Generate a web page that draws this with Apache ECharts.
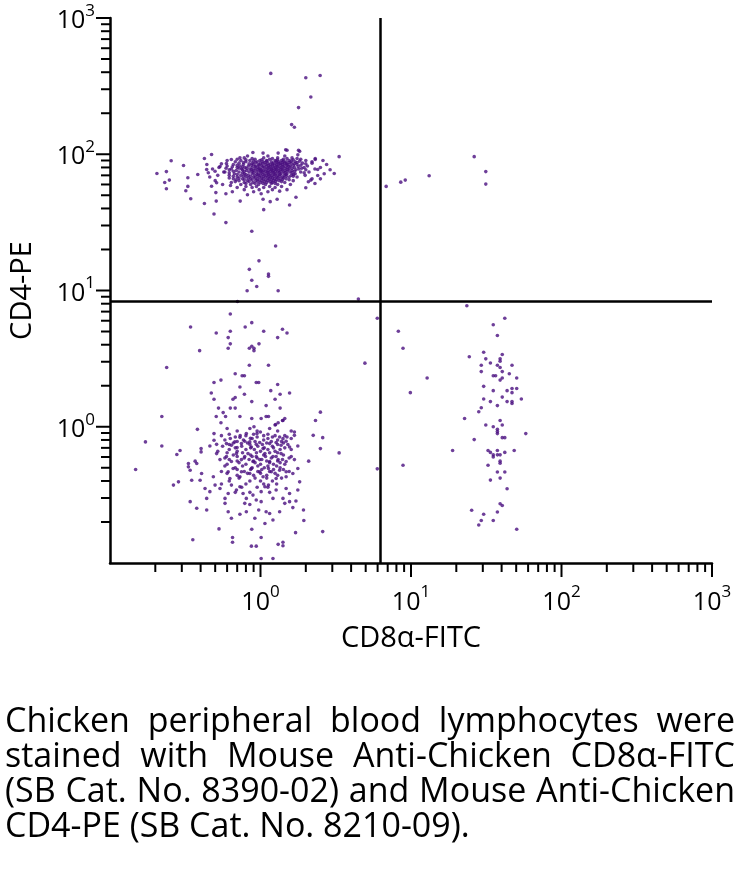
<!DOCTYPE html>
<html><head><meta charset="utf-8">
<script src="https://cdn.jsdelivr.net/npm/echarts@6/dist/echarts.min.js"></script>
<style>html,body{margin:0;padding:0;background:#fff}#c{width:740px;height:881px}</style>
</head><body><div id="c"></div><script>
// ---- data (CD8a-FITC, CD4-PE) ----
const upperLeftSpray = [[1.17,392],[2.0,364],[2.49,378],[2.16,263],[1.79,220],[1.61,165],[1.68,158],[3.33,96],[3.09,72.3],
 [0.205,72.3],[0.255,89.5],[0.237,74.6],[0.248,64.6],[0.231,62.1],[0.237,55.8],[0.308,82.6],[0.329,67.2],[0.329,58.1],[0.319,54.0],
 [0.344,47.2],[0.424,43.5],[0.424,93],[0.473,99.5],[0.508,45.3],[0.733,45.3],[0.819,50.5],[1.04,46.7],[1.16,44.9],[1.29,46.7],
 [1.56,42.4],[1.72,48.4],[2.0,56.7],[2.08,62.8],[2.40,69.8],[2.31,93],[1.79,107],[1.50,107],
 [0.491,36.4],[0.589,31.5],[1.05,39.2],[0.875,27.2],[1.26,21.2],[0.977,16.5],[0.843,14.3],[1.13,13.2],[1.13,12.7],[0.875,11.9],
 [0.944,10.7],[0.815,9.96],[1.31,9.96],[4.47,8.65],
 [0.383,71.1],[0.45,73.1],[0.511,61.8],[0.473,58.3],[0.505,52.3],[0.589,51.3],[0.632,59.0],[1.01,51.3],[1.34,53.6],[2.16,64.6],
 [2.4,77.3],[2.31,91.4],[1.82,105],[1.47,108],[1.77,99],[1.31,102],[1.04,102],[0.89,103],[0.73,94.2],[0.64,91.4],[0.594,85.5],
 [0.538,81.2],[0.499,75.0],[0.439,77.3],
 [0.48,78],[0.52,70],[0.55,85],[0.5,64],[0.57,74],[0.6,90],[0.46,68],[0.53,80],[0.62,67],[0.56,60],[0.44,84],[0.59,79],
 [2.5,80],[2.65,72],[2.2,88],[2.5,66],[2.75,84],[2.3,61],[2.9,77],[2.6,90]];
const upperLeftCore = [
 [0.78,94],[1.05,94],[1.3,94],[1.62,94],
 [0.7,92],[0.92,92],[1.15,92],[1.42,92],[1.85,92],
 [0.74,90],[0.85,90],[0.99,90],[1.1,90],[1.25,90],[1.38,90],[1.55,90],[2.0,90],
 [0.68,88],[0.8,88],[0.95,88],[1.04,88],[1.18,88],[1.32,88],[1.48,88],[1.7,88],
 [0.72,86],[0.88,86],[1.0,86],[1.12,86],[1.22,86],[1.35,86],[1.45,86],[1.6,86],[1.9,86],[2.2,86],
 [0.66,84],[0.77,84],[0.9,84],[0.97,84],[1.08,84],[1.16,84],[1.28,84],[1.4,84],[1.52,84],[1.75,84],
 [0.6,82],[0.73,82],[0.83,82],[0.93,82],[1.02,82],[1.1,82],[1.2,82],[1.3,82],[1.43,82],[1.58,82],[2.05,82],
 [0.7,80],[0.79,80],[0.88,80],[0.96,80],[1.06,80],[1.14,80],[1.25,80],[1.36,80],[1.5,80],[1.68,80],[1.95,80],
 [0.64,78],[0.75,78],[0.85,78],[0.92,78],[1.0,78],[1.09,78],[1.18,78],[1.27,78],[1.39,78],[1.55,78],[1.8,78],[2.3,78],
 [0.69,76],[0.81,76],[0.9,76],[0.98,76],[1.05,76],[1.13,76],[1.22,76],[1.33,76],[1.46,76],[1.62,76],
 [0.58,74],[0.72,74],[0.84,74],[0.94,74],[1.03,74],[1.11,74],[1.2,74],[1.3,74],[1.42,74],[1.57,74],[1.85,74],[2.1,74],
 [0.67,72],[0.78,72],[0.88,72],[0.97,72],[1.07,72],[1.16,72],[1.26,72],[1.37,72],[1.5,72],[1.7,72],
 [0.62,70],[0.74,70],[0.83,70],[0.92,70],[1.0,70],[1.1,70],[1.19,70],[1.3,70],[1.44,70],[1.6,70],[1.98,70],
 [0.7,68],[0.8,68],[0.9,68],[0.99,68],[1.08,68],[1.17,68],[1.28,68],[1.4,68],[1.55,68],[1.75,68],
 [0.66,66],[0.76,66],[0.86,66],[0.95,66],[1.04,66],[1.14,66],[1.24,66],[1.35,66],[1.48,66],[2.2,66],
 [0.72,64],[0.82,64],[0.93,64],[1.02,64],[1.12,64],[1.22,64],[1.33,64],[1.65,64],
 [0.64,62],[0.78,62],[0.89,62],[1.0,62],[1.1,62],[1.2,62],[1.45,62],
 [0.74,60],[0.86,60],[0.97,60],[1.08,60],[1.3,60],[1.58,60],
 [0.8,58],[0.94,58],[1.15,58],[1.38,58]];
const upperLeftCore2 = [
 [0.82,97],[1.12,97],[1.45,97],
 [0.88,93],[1.2,93],[1.5,93],[1.75,93],
 [0.8,91],[1.02,91],[1.3,91],[1.65,91],
 [0.9,89],[1.1,89],[1.27,89],[1.42,89],[1.6,89],[1.82,89],
 [0.77,87],[0.93,87],[1.07,87],[1.28,87],[1.4,87],[1.55,87],[1.75,87],
 [0.84,85],[1.03,85],[1.2,85],[1.33,85],[1.48,85],[1.68,85],[2.0,85],
 [0.7,83],[0.87,83],[0.98,83],[1.13,83],[1.24,83],[1.36,83],[1.5,83],[1.65,83],[1.85,83],
 [0.65,81],[0.76,81],[0.92,81],[1.04,81],[1.17,81],[1.29,81],[1.41,81],[1.55,81],[1.78,81],
 [0.72,79],[0.81,79],[0.98,79],[1.12,79],[1.22,79],[1.33,79],[1.46,79],[1.62,79],[1.88,79],
 [0.62,77],[0.76,77],[0.87,77],[0.95,77],[1.02,77],[1.18,77],[1.28,77],[1.4,77],[1.52,77],[1.72,77],[2.0,77],
 [0.66,75],[0.78,75],[0.88,75],[1.0,75],[1.08,75],[1.16,75],[1.25,75],[1.36,75],[1.5,75],[1.68,75],
 [0.62,73],[0.76,73],[0.9,73],[1.01,73],[1.12,73],[1.22,73],[1.33,73],[1.45,73],[1.62,73],[1.95,73],
 [0.7,71],[0.8,71],[0.95,71],[1.04,71],[1.13,71],[1.24,71],[1.35,71],[1.48,71],[1.66,71],
 [0.66,69],[0.77,69],[0.86,69],[0.96,69],[1.05,69],[1.14,69],[1.23,69],[1.34,69],[1.48,69],[1.65,69],
 [0.72,67],[0.83,67],[0.92,67],[1.02,67],[1.12,67],[1.2,67],[1.3,67],[1.42,67],
 [0.69,65],[0.78,65],[0.88,65],[0.98,65],[1.08,65],[1.18,65],[1.28,65],[1.4,65],[1.55,65],
 [0.68,63],[0.84,63],[0.96,63],[1.06,63],[1.16,63],[1.26,63],[1.38,63],
 [0.8,61],[0.92,61],[1.04,61],[1.18,61],[1.25,61],
 [0.7,57],[0.88,57],[1.05,57],[1.25,57],
 [0.78,55],[0.98,55],[1.2,55],[1.5,55],
 [0.65,53],[0.9,53],[1.12,53]];
const upperRight = [[6.84,58.1],[8.55,62.4],[9.16,64.6],[13.2,69.5],[26.3,96],[31.4,74.6],[31.4,60.4]];
const lowerLeftSpread = [[0.703,8.3],[0.63,6.72],[0.343,5.40],[0.508,4.87],[0.63,5.02],[0.791,5.40],[0.875,5.81],[1.05,5.02],
 [1.40,5.19],[1.50,4.87],[1.30,4.51],[0.61,4.51],[0.63,4.06],[0.61,3.77],[0.394,3.62],[0.843,3.77],[0.875,3.90],[0.905,3.77],
 [0.905,3.62],[0.977,4.06],[0.238,2.72],[0.843,2.83],[1.13,2.83],[0.679,2.45],[0.755,2.37],[0.782,2.37],[0.491,2.11],[0.546,2.20],
 [0.937,2.11],[0.973,2.11],[1.30,2.04],[0.73,1.96],[1.17,1.84],[0.471,1.77],[1.56,1.77],[1.35,1.73],[0.679,1.64],[0.656,1.59],
 [0.782,1.73],[0.491,1.59],[0.875,1.53],[1.25,1.59],[1.09,1.43],[0.526,1.37],[0.63,1.37],[0.679,1.37],[1.35,1.37],[0.565,1.27],
 [0.221,1.19],[0.508,1.19],[0.586,1.19],[0.73,1.19],[0.875,1.15],[1.01,1.15],[1.09,1.19],[1.13,1.19],[1.45,1.15],[1.40,1.11],
 [1.31,1.07],[1.25,1.03],[0.546,1.07],[0.905,1.00],[2.32,1.11],[2.50,1.28],[5.97,6.25],[4.94,2.93],[5.97,0.491],
 [1.26,1.04],[1.41,1.11],[0.381,0.957],[0.491,0.891],[0.733,0.861],[0.730,0.836],[0.805,0.891],[0.857,0.822],[0.948,0.891],
 [0.998,0.916],[1.34,0.841],[1.41,0.818],[1.68,0.916],[1.68,0.865],[2.24,0.865],[2.59,0.832],[0.172,0.774],[0.221,0.723],
 [0.403,0.691],[0.403,0.654],[0.461,0.723],[0.491,0.796],[0.511,0.743],[0.594,0.752],[0.641,0.732],[0.675,0.774],[0.699,0.703],
 [0.747,0.752],[0.786,0.783],[0.849,0.774],[0.870,0.711],[0.937,0.743],[0.988,0.766],[1.04,0.691],[1.15,0.752],[1.27,0.766],
 [1.37,0.732],[1.48,0.783],[1.56,0.711],[1.77,0.723],[2.09,0.559],[3.33,0.643],[2.50,0.691],[0.278,0.625],[0.292,0.670],
 [0.332,0.537],[0.332,0.508],[0.368,0.559],[0.377,0.537],[0.148,0.486]];
const lowerLeftCore = [[0.511,0.635],[0.538,0.574],[0.594,0.604],[0.641,0.556],[0.692,0.635],[0.747,0.574],[0.786,0.604],
 [0.826,0.635],[0.891,0.556],[0.937,0.604],[0.988,0.574],[1.07,0.635],[1.15,0.556],[1.21,0.604],[1.31,0.574],[1.37,0.635],
 [1.48,0.556],[1.60,0.604],[1.68,0.574],
 [0.341,0.480],[0.406,0.454],[0.486,0.430],[0.61,0.467],[0.626,0.417],[0.658,0.494],[0.73,0.430],[0.747,0.467],[0.849,0.454],
 [0.87,0.494],[0.988,0.467],[1.04,0.430],[1.13,0.494],[1.18,0.467],[1.27,0.417],[1.34,0.480],[1.48,0.467],[1.64,0.454],
 [1.77,0.494],[1.48,0.430],
 [1.82,0.394],[1.77,0.343],[1.56,0.324],[1.48,0.352],[1.41,0.298],[1.27,0.343],[1.21,0.298],[1.13,0.373],[1.07,0.363],
 [1.01,0.334],[0.937,0.290],[0.891,0.315],[0.805,0.298],[0.766,0.324],[0.730,0.363],[0.692,0.343],[0.641,0.373],[0.610,0.324],
 [0.581,0.298],[0.538,0.352],[0.499,0.373],[0.461,0.334],[0.428,0.352],[0.439,0.298],[0.397,0.405],[0.349,0.405],[0.285,0.394],
 [0.264,0.373],
 [0.62,0.88],[0.9,0.88],[1.12,0.88],[0.68,0.84],[0.95,0.84],[1.2,0.84],[1.5,0.84],[0.58,0.80],[0.77,0.80],[1.05,0.80],[1.3,0.80],
 [0.66,0.76],[0.82,0.76],[1.1,0.76],[1.42,0.76],[0.56,0.72],[0.75,0.72],[0.96,0.72],[1.2,0.72],
 [0.62,0.68],[0.8,0.68],[0.91,0.68],[1.12,0.68],[1.35,0.68],[1.6,0.68],[0.52,0.66],[0.7,0.66],[1.0,0.66],[1.25,0.66],
 [0.66,0.62],[0.86,0.62],[1.05,0.62],[1.42,0.62],[0.58,0.59],[0.78,0.59],[0.95,0.59],[1.18,0.59],[1.55,0.59],
 [0.7,0.56],[0.9,0.56],[1.1,0.56],[1.3,0.56],[0.6,0.53],[0.8,0.53],[1.0,0.53],[1.22,0.53],[1.45,0.53],
 [0.68,0.50],[0.88,0.50],[1.06,0.50],[1.35,0.50],[0.55,0.47],[0.78,0.47],[0.96,0.47],[1.15,0.47],[1.55,0.47],
 [0.7,0.44],[0.9,0.44],[1.1,0.44],[1.3,0.44],[0.62,0.40],[0.85,0.40],[1.0,0.40],[1.2,0.40],[0.75,0.36],[0.95,0.36],[1.12,0.36]];
const lowerLeftCore2 = [[0.6,0.97],[0.85,0.97],[1.15,0.97],[0.7,0.93],[0.95,0.93],[1.3,0.93],[1.6,0.93],
 [0.55,0.86],[0.8,0.86],[1.05,0.86],[1.25,0.86],[1.45,0.86],[0.63,0.82],[0.88,0.82],[1.12,0.82],[1.6,0.82],
 [0.7,0.78],[0.92,0.78],[1.18,0.78],[1.38,0.78],[0.62,0.74],[0.85,0.74],[1.03,0.74],[1.3,0.74],[1.52,0.74],
 [0.68,0.70],[0.86,0.70],[1.06,0.70],[1.22,0.70],[1.45,0.70],[0.6,0.645],[0.76,0.645],[0.94,0.645],[1.15,0.645],[1.3,0.645],
 [0.7,0.605],[0.88,0.605],[1.08,0.605],[1.27,0.605],[0.62,0.575],[0.84,0.575],[1.02,0.575],[1.4,0.575],
 [0.72,0.545],[0.92,0.545],[1.15,0.545],[1.35,0.545],[0.58,0.515],[0.76,0.515],[0.96,0.515],[1.12,0.515],[1.28,0.515],
 [0.7,0.485],[0.86,0.485],[1.02,0.485],[1.22,0.485],[1.42,0.485],[0.6,0.455],[0.82,0.455],[1.0,0.455],[1.25,0.455],
 [0.72,0.42],[0.92,0.42],[1.1,0.42],[1.38,0.42],[0.55,0.38],[0.8,0.38],[1.05,0.38],[1.28,0.38],[0.68,0.33],[0.85,0.33],[1.15,0.33]];
const lowerLeftTail = [[0.341,0.282],[0.377,0.252],[0.439,0.245],[0.581,0.274],[0.610,0.238],[0.641,0.213],[0.730,0.228],
 [0.786,0.274],[0.805,0.238],[0.849,0.269],[0.917,0.213],[0.973,0.245],[1.01,0.282],[1.07,0.195],[1.09,0.238],[1.15,0.231],
 [1.21,0.207],[1.34,0.238],[1.45,0.274],[1.56,0.282],[1.64,0.255],[1.72,0.285],[1.93,0.245],[1.94,0.205],[1.71,0.167],
 [2.59,0.170],[0.530,0.178],[0.652,0.154],[0.652,0.142],[0.355,0.148],[0.875,0.177],[1.01,0.154],[0.870,0.133],[0.937,0.133],
 [1.31,0.137],[1.41,0.142],[1.41,0.134],[1.01,0.108],[1.21,0.108]];
const lowerRight = [[23.5,7.73],[42.0,6.25],[35.2,5.61],[37.5,4.67],[8.24,5.02],[8.85,3.77],[24.4,3.26],[30.4,3.52],[40.4,3.39],
 [31.4,3.15],[39.1,3.15],[39.1,3.03],[33.7,2.94],[29.3,2.83],[37.5,2.83],[39.1,2.72],[46.9,2.83],[29.3,2.54],[40.4,2.54],
 [35.2,2.37],[36.5,2.37],[45.0,2.45],[40.4,2.28],[39.1,2.20],[50.4,2.28],[12.8,2.28],[30.4,1.98],[35.2,1.84],[43.5,1.84],
 [46.9,1.91],[50.4,1.91],[46.9,1.78],[9.9,1.78],[30.4,1.60],[33.7,1.53],[40.4,1.65],[43.5,1.53],[46.9,1.53],[46.9,1.48],
 [54.1,1.60],[37.5,1.43],[29.3,1.38],[28.2,1.29],[22.7,1.15],[31.4,1.03],[35.2,1.0],[37.5,0.957],[37.5,0.921],[37.5,0.891],
 [39.1,1.11],[40.4,1.03],[40.4,0.832],[42.0,0.832],[57.9,0.891],[26.3,0.805],[18.9,0.670],[32.5,0.670],[33.7,0.648],
 [35.2,0.622],[35.2,0.601],[37.5,0.670],[37.5,0.622],[39.1,0.622],[42.0,0.648],[48.5,0.670],[39.1,0.559],[39.1,0.540],
 [32.5,0.522],[8.85,0.522],[37.5,0.466],[42.0,0.466],[33.7,0.406],[39.1,0.420],[43.5,0.351],[39.1,0.272],[40.4,0.264],
 [37.5,0.237],[25.3,0.244],[30.4,0.228],[29.3,0.205],[28.2,0.190],[35.2,0.205],[50.4,0.177]];
const gateX = 6.24, gateY = 8.37;           // quadrant gate
const axisMin = 0.1, axisMax = 1000;
const majorTicks = [1, 10, 100, 1000];
const minorTicks = [0.2,0.3,0.4,0.5,0.6,0.7,0.8,0.9, 2,3,4,5,6,7,8,9, 20,30,40,50,60,70,80,90, 200,300,400,500,600,700,800,900];
const xTitle = 'CD8\u03b1-FITC', yTitle = 'CD4-PE';
const captionLines = ['Chicken peripheral blood lymphocytes were',
 'stained with Mouse Anti-Chicken CD8\u03b1-FITC',
 '(SB Cat. No. 8390-02) and Mouse Anti-Chicken',
 'CD4-PE (SB Cat. No. 8210-09).'];

// ---- chart ----
const FONT = '"Open Sans", "Noto Sans", sans-serif';
const dotColor = '#4a0f80';
const allPoints = [].concat(upperLeftSpray, upperLeftCore, upperLeftCore2, upperRight, lowerLeftSpread,
  lowerLeftCore, lowerLeftCore2, lowerLeftTail, lowerRight);

function expLabel(v) {
  const e = Math.round(Math.log10(v));
  return '{b|10}{s|' + e + '}';
}
const rich = {
  b: {fontSize: 25, fontFamily: FONT, color: '#000', lineHeight: 31, verticalAlign: 'bottom'},
  s: {fontSize: 17, fontFamily: FONT, color: '#000', lineHeight: 17, verticalAlign: 'top'}
};
function axisCommon() {
  return {
    type: 'log', logBase: 10, min: axisMin, max: axisMax,
    splitLine: {show: false},
    axisLine: {show: true, onZero: false, lineStyle: {color: '#000', width: 2.5}},
    axisTick: {show: false},
    minorTick: {show: false},
    axisLabel: {showMinLabel: false, formatter: expLabel, rich: rich},
    nameLocation: 'middle',
    nameTextStyle: {fontFamily: FONT, fontSize: 29, color: '#000'}
  };
}
const xAxis = Object.assign(axisCommon(), {name: xTitle, nameGap: 61});
xAxis.axisLabel = Object.assign({}, xAxis.axisLabel, {margin: 21});
const yAxis = Object.assign(axisCommon(), {name: yTitle, nameGap: 73});
yAxis.axisLabel = Object.assign({}, yAxis.axisLabel, {margin: 15});

// tick marks drawn through the axes' own scales
function tickSeries(values, len, onX) {
  return {
    type: 'custom', coordinateSystem: 'cartesian2d', silent: true, clip: false, z: 5,
    data: values.map(v => onX ? [v, axisMin] : [axisMin, v]),
    renderItem: function (params, api) {
      const p = api.coord([api.value(0), api.value(1)]);
      return {type: 'line',
        shape: onX ? {x1: p[0], y1: p[1], x2: p[0], y2: p[1] + len} : {x1: p[0], y1: p[1], x2: p[0] - len, y2: p[1]},
        style: {stroke: '#000', lineWidth: 2}};
    }
  };
}

// caption, justified
const capFont = 34;
const capCtx = document.createElement('canvas').getContext('2d');
capCtx.font = capFont + 'px ' + FONT;
const capLeft = 5, capRight = 735, capTop = 722, capStep = 35;
const graphics = [];
captionLines.forEach(function (line, i) {
  const words = line.split(' ');
  const widths = words.map(w => capCtx.measureText(w).width);
  const total = widths.reduce((a, b) => a + b, 0);
  const last = i === captionLines.length - 1;
  const gap = last ? capCtx.measureText(' ').width : (capRight - capLeft - total) / (words.length - 1);
  let x = capLeft;
  words.forEach(function (w, k) {
    graphics.push({type: 'text', x: x, y: capTop + i * capStep,
      style: {text: w, fill: '#000', font: capFont + 'px ' + FONT, verticalAlign: 'middle', align: 'left'}});
    x += widths[k] + gap;
  });
});

const chart = echarts.init(document.getElementById('c'), null, {renderer: 'canvas'});
chart.setOption({
  animation: false,
  backgroundColor: '#fff',
  grid: {left: 106, top: 18, width: 606, height: 545, containLabel: false},
  xAxis: xAxis,
  yAxis: yAxis,
  graphic: graphics,
  series: [{
    type: 'scatter',
    data: allPoints,
    symbol: 'circle',
    symbolSize: 3.6,
    itemStyle: {color: dotColor},
    silent: true,
    markLine: {
      silent: true, symbol: 'none', animation: false,
      label: {show: false},
      lineStyle: {color: '#000', width: 2.5, type: 'solid'},
      data: [{xAxis: gateX}, {yAxis: gateY}]
    }
  },
  tickSeries(majorTicks, 14, true), tickSeries(minorTicks, 9, true),
  tickSeries(majorTicks, 14, false), tickSeries(minorTicks, 9, false)]
});
</script></body></html>
